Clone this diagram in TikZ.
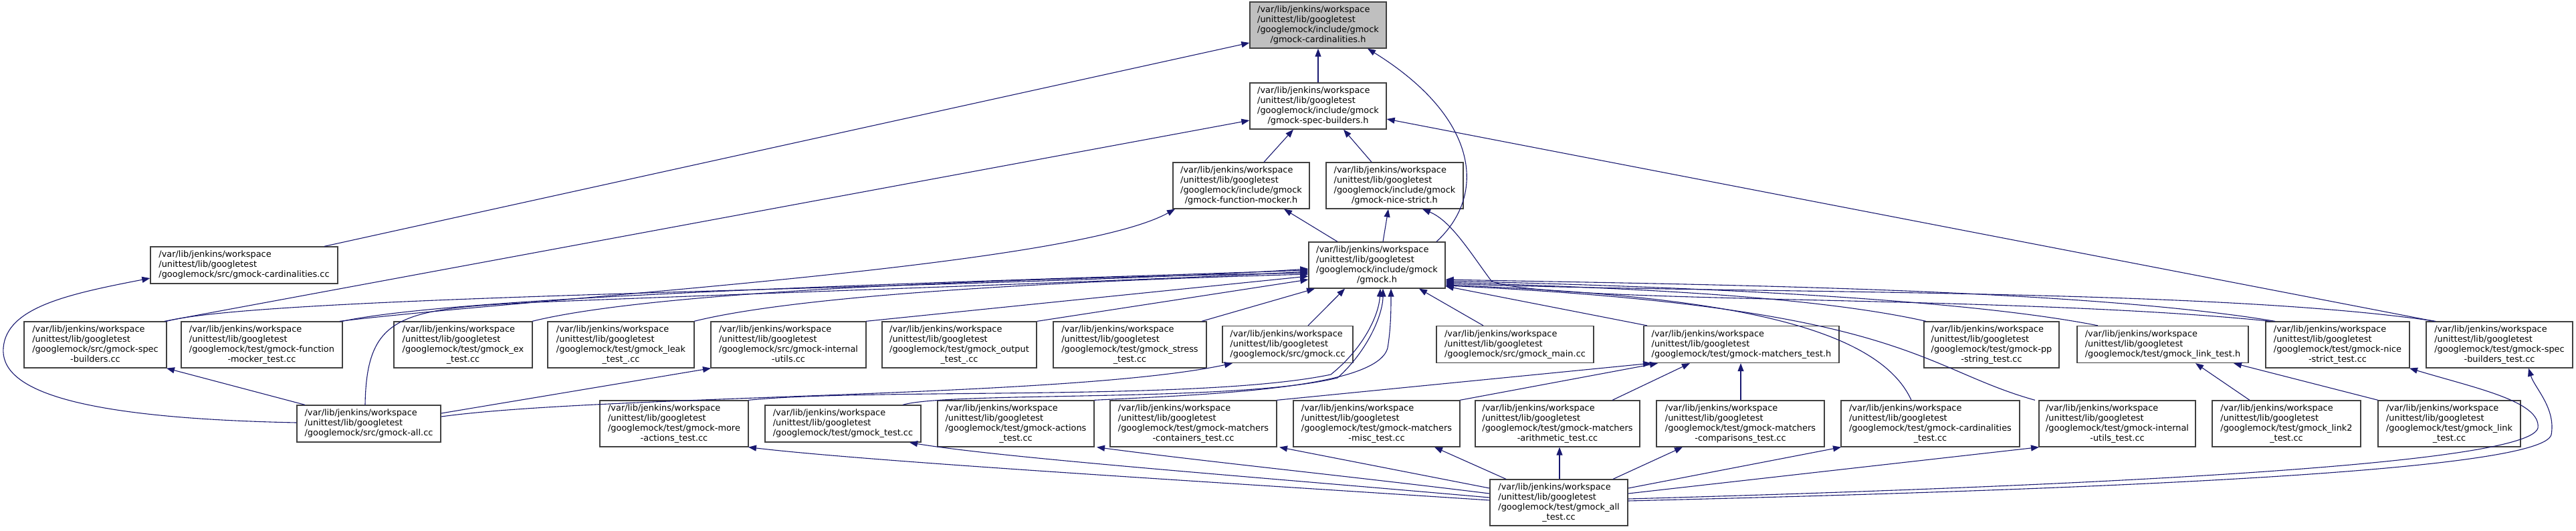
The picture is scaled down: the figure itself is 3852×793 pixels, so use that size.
\documentclass[tikz,border=0pt]{standalone}
\usepackage{fontspec}
\setmainfont{DejaVu Sans}
\usetikzlibrary{arrows.meta}
\definecolor{edgeblue}{HTML}{191970}
\definecolor{boxline}{HTML}{404040}
\definecolor{rootfill}{HTML}{BFBFBF}
\newcommand{\lblA}[2]{\begin{tabular}{@{}l@{}}/var/lib/jenkins/workspace\\/unittest/lib/googletest\\#1\\\multicolumn{1}{@{}c@{}}{#2}\end{tabular}}
\newcommand{\lblB}[1]{\begin{tabular}{@{}l@{}}/var/lib/jenkins/workspace\\/unittest/lib/googletest\\#1\end{tabular}}
\tikzset{
  fbox/.style={draw=boxline, fill=white, line width=1.3pt, inner sep=0pt, rectangle,
     font=\fontsize{12.9}{15}\selectfont},
  four/.style={fbox, minimum height=69pt},
  three/.style={fbox, minimum height=55pt},
  edge/.style={draw=edgeblue, line width=1.1pt, -{Triangle[length=12pt,width=9pt]}},
}
\begin{document}
\begin{tikzpicture}[x=1pt,y=-1pt]
\useasboundingbox (0,0) rectangle (3852,793);
% row 0-2
\node[four, fill=rootfill, minimum width=204pt] (cardh) at (1971,37.5) {\lblA{/googlemock/include/gmock}{/gmock-cardinalities.h}};
\node[four, minimum width=204pt] (specbh) at (1971,158.5) {\lblA{/googlemock/include/gmock}{/gmock-spec-builders.h}};
\node[four, minimum width=204pt] (fmockh) at (1856,277.5) {\lblA{/googlemock/include/gmock}{/gmock-function-mocker.h}};
\node[four, minimum width=205pt] (niceh) at (2085.5,277.5) {\lblA{/googlemock/include/gmock}{/gmock-nice-strict.h}};
\node[four, minimum width=204pt] (gmockh) at (2059,396.5) {\lblA{/googlemock/include/gmock}{/gmock.h}};
\node[three, minimum width=280pt] (cardcc) at (365,396.5) {\lblB{/googlemock/src/gmock-cardinalities.cc}};
% row 3
\node[four, minimum width=213pt] (specbcc) at (142.5,515.5) {\lblA{/googlemock/src/gmock-spec}{-builders.cc}};
\node[four, minimum width=241pt] (fmtest) at (391.5,515.5) {\lblA{/googlemock/test/gmock-function}{-mocker\_test.cc}};
\node[four, minimum width=207pt] (extest) at (692.5,515.5) {\lblA{/googlemock/test/gmock\_ex}{\_test.cc}};
\node[four, minimum width=219pt] (leak) at (928.5,515.5) {\lblA{/googlemock/test/gmock\_leak}{\_test\_.cc}};
\node[four, minimum width=232pt] (iucc) at (1179,515.5) {\lblA{/googlemock/src/gmock-internal}{-utils.cc}};
\node[four, minimum width=231pt] (output) at (1434.5,515.5) {\lblA{/googlemock/test/gmock\_output}{\_test\_.cc}};
\node[four, minimum width=229pt] (stress) at (1689.5,515.5) {\lblA{/googlemock/test/gmock\_stress}{\_test.cc}};
\node[three, minimum width=195pt] (gmockcc) at (1925.5,515) {\lblB{/googlemock/src/gmock.cc}};
\node[three, minimum width=235pt] (maincc) at (2265.5,515) {\lblB{/googlemock/src/gmock\_main.cc}};
\node[three, minimum width=292pt] (mth) at (2604,515) {\lblB{/googlemock/test/gmock-matchers\_test.h}};
\node[four, minimum width=202pt] (ppstr) at (2978,515.5) {\lblA{/googlemock/test/gmock-pp}{-string\_test.cc}};
\node[three, minimum width=256pt] (linkh) at (3234,515) {\lblB{/googlemock/test/gmock\_link\_test.h}};
\node[four, minimum width=215pt] (nicetest) at (3495.5,515.5) {\lblA{/googlemock/test/gmock-nice}{-strict\_test.cc}};
\node[four, minimum width=219pt] (specbtest) at (3737.5,515.5) {\lblA{/googlemock/test/gmock-spec}{-builders\_test.cc}};
% row 4
\node[three, minimum width=215pt] (allcc) at (551.5,633.5) {\lblB{/googlemock/src/gmock-all.cc}};
\node[four, minimum width=222pt] (moreact) at (1008,633.5) {\lblA{/googlemock/test/gmock-more}{-actions\_test.cc}};
\node[three, minimum width=233pt] (gtest) at (1260.5,633.5) {\lblB{/googlemock/test/gmock\_test.cc}};
\node[four, minimum width=234pt] (actions) at (1519,633.5) {\lblA{/googlemock/test/gmock-actions}{\_test.cc}};
\node[four, minimum width=249pt] (contain) at (1784.5,633.5) {\lblA{/googlemock/test/gmock-matchers}{-containers\_test.cc}};
\node[four, minimum width=249pt] (misc) at (2058.5,633.5) {\lblA{/googlemock/test/gmock-matchers}{-misc\_test.cc}};
\node[four, minimum width=246pt] (arith) at (2329,633.5) {\lblA{/googlemock/test/gmock-matchers}{-arithmetic\_test.cc}};
\node[four, minimum width=251pt] (compar) at (2602.5,633.5) {\lblA{/googlemock/test/gmock-matchers}{-comparisons\_test.cc}};
\node[four, minimum width=267pt] (cardtest) at (2886.5,633.5) {\lblA{/googlemock/test/gmock-cardinalities}{\_test.cc}};
\node[four, minimum width=234pt] (iutest) at (3166,633.5) {\lblA{/googlemock/test/gmock-internal}{-utils\_test.cc}};
\node[four, minimum width=222pt] (link2) at (3419,633.5) {\lblA{/googlemock/test/gmock\_link2}{\_test.cc}};
\node[four, minimum width=213pt] (linkcc) at (3662.5,633.5) {\lblA{/googlemock/test/gmock\_link}{\_test.cc}};
% row 5
\node[four, minimum width=206pt] (alltest) at (2331,751.5) {\lblA{/googlemock/test/gmock\_all}{\_test.cc}};
% edges to cardinalities.h
\draw[edge] (specbh.north) -- (cardh.south);
\draw[edge] (cardcc.north -| 485,0) -- (cardh.west |- 0,64);
\draw[edge] (gmockh.north -| 2148,0) .. controls (2225,290) and (2210,175) .. (cardh.south -| 2045,0);
% to spec-builders.h
\draw[edge] (fmockh.north -| 1890,0) -- (specbh.south -| 1934,0);
\draw[edge] (niceh.north -| 2051,0) -- (specbh.south -| 2009,0);
\draw[edge] (specbcc.north -| 246,0) -- (specbh.west |- 0,180);
\draw[edge] (specbtest.north -| 3640,0) -- (specbh.east |- 0,178);
% to function-mocker.h / nice-strict.h
\draw[edge] (gmockh.north -| 2000,0) -- (fmockh.south -| 1920,0);
\draw[edge] (gmockh.north -| 2068,0) -- (niceh.south -| 2076,0);
\draw[edge] (fmtest.north -| 508,0) .. controls (800,445) and (1600,400) .. (fmockh.south -| 1757,0);
\draw[edge] (nicetest.north -| 3395,0) .. controls (3000,440) and (2300,455) .. (2230,420) .. controls (2200,380) and (2170,330) .. (niceh.south -| 2127,0);
% to gmock.h from left
\draw[edge] (specbcc.north -| 249,0) .. controls (400,440) and (1500,432) .. (gmockh.west |- 0,402);
\draw[edge] (fmtest.north -| 512,0) .. controls (700,440) and (1500,420) .. (gmockh.west |- 0,404);
\draw[edge] (allcc.north -| 546,0) .. controls (548,470) and (600,462) .. (800,452) .. controls (1300,432) and (1700,420) .. (gmockh.west |- 0,406);
\draw[edge] (extest.north -| 796,0) .. controls (1000,430) and (1600,415) .. (gmockh.west |- 0,408);
\draw[edge] (leak.north -| 1038,0) .. controls (1200,440) and (1600,420) .. (gmockh.west |- 0,410);
\draw[edge] (iucc.north -| 1295,0) -- (gmockh.west |- 0,413);
\draw[edge] (output.north -| 1551,0) -- (gmockh.west |- 0,418);
\draw[edge] (stress.north -| 1797,0) -- (gmockh.south -| 1966,0);
\draw[edge] (gmockcc.north -| 1956,0) -- (gmockh.south -| 2011,0);
\draw[edge] (maincc.north -| 2218,0) -- (gmockh.south -| 2122,0);
\draw[edge] (moreact.north -| 1119,0) .. controls (1300,580) and (1800,600) .. (1990,560) .. controls (2040,520) and (2062,470) .. (gmockh.south -| 2064,0);
\draw[edge] (gtest.north -| 1350,0) .. controls (1420,585) and (1850,602) .. (2000,565) .. controls (2045,525) and (2068,470) .. (gmockh.south -| 2068,0);
\draw[edge] (actions.north -| 1636,0) .. controls (1800,590) and (2060,582) .. (2075,520) .. controls (2080,490) and (2080,460) .. (gmockh.south -| 2080,0);
% to gmock.h from right
\draw[edge] (mth.north -| 2463,0) -- (gmockh.east |- 0,428);
\draw[edge] (ppstr.north -| 2880,0) .. controls (2700,440) and (2400,430) .. (gmockh.east |- 0,422);
\draw[edge] (linkh.north -| 3137,0) .. controls (2900,440) and (2400,426) .. (gmockh.east |- 0,420);
\draw[edge] (nicetest.north -| 3402,0) .. controls (3100,430) and (2500,425) .. (gmockh.east |- 0,418);
\draw[edge] (specbtest.north -| 3642,0) .. controls (3300,430) and (2600,440) .. (gmockh.east |- 0,424);
\draw[edge] (cardtest.north -| 2858,0) .. controls (2800,470) and (2500,440) .. (gmockh.east |- 0,426);
\draw[edge] (iutest.north -| 3043,0) .. controls (2870,550) and (2850,460) .. (gmockh.east |- 0,427);
% to matchers_test.h / link_test.h
\draw[edge] (contain.north -| 1909,0) -- (mth.south -| 2469,0);
\draw[edge] (misc.north -| 2183,0) -- (mth.south -| 2479,0);
\draw[edge] (arith.north -| 2411,0) -- (mth.south -| 2527,0);
\draw[edge] (compar.north -| 2603,0) -- (mth.south -| 2603,0);
\draw[edge] (link2.north -| 3364,0) -- (linkh.south -| 3283,0);
\draw[edge] (linkcc.north -| 3556,0) -- (linkh.south -| 3340,0);
% from gmock-all.cc
\draw[edge] (allcc.north -| 456,0) -- (specbcc.south -| 249,0);
\draw[edge] (allcc.east |- 0,618) -- (iucc.south -| 1063,0);
\draw[edge] (allcc.east |- 0,623) .. controls (900,590) and (1600,595) .. (gmockcc.south -| 1843,0);
\draw[edge] (allcc.west |- 0,632) .. controls (100,625) and (0,580) .. (5,520) .. controls (10,460) and (100,440) .. (cardcc.west |- 0,416);
% from gmock_all_test.cc
\draw[edge] (alltest.west |- 0,748) .. controls (1800,720) and (1300,690) .. (moreact.south -| 1119,0);
\draw[edge] (alltest.west |- 0,744) .. controls (1900,715) and (1500,685) .. (gtest.south -| 1360,0);
\draw[edge] (alltest.west |- 0,738) .. controls (2000,710) and (1800,690) .. (actions.south -| 1640,0);
\draw[edge] (alltest.west |- 0,730) -- (contain.south -| 1913,0);
\draw[edge] (alltest.north -| 2252,0) -- (misc.south -| 2145,0);
\draw[edge] (alltest.north -| 2332,0) -- (arith.south -| 2332,0);
\draw[edge] (alltest.north -| 2412,0) -- (compar.south -| 2516,0);
\draw[edge] (alltest.east |- 0,730) -- (cardtest.south -| 2753,0);
\draw[edge] (alltest.east |- 0,738) -- (iutest.south -| 3049,0);
\draw[edge] (alltest.east |- 0,746) .. controls (3000,730) and (3780,700) .. (3795,640) .. controls (3800,600) and (3700,580) .. (nicetest.south -| 3603,0);
\draw[edge] (alltest.east |- 0,749) .. controls (3000,735) and (3800,710) .. (3815,650) .. controls (3822,610) and (3790,580) .. (specbtest.south -| 3781,0);
\end{tikzpicture}
\end{document}
